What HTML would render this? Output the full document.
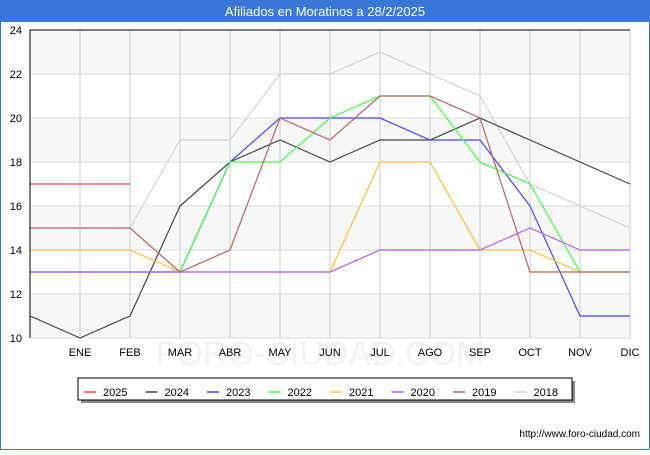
<!DOCTYPE html>
<html><head><meta charset="utf-8"><style>
body{margin:0;width:650px;height:450px;overflow:hidden;background:#fff;font-family:"Liberation Sans",sans-serif}
</style></head><body>
<svg id="c" width="650" height="450" xmlns="http://www.w3.org/2000/svg" font-family="Liberation Sans, sans-serif">
<rect x="0" y="0" width="650" height="450" fill="#fff" stroke="#3a78d8" stroke-width="2"/>
<rect x="0" y="0" width="650" height="22" fill="#3a78d8"/>
<text x="325" y="16" fill="#fff" font-size="13" text-anchor="middle">Afiliados en Moratinos a 28/2/2025</text>
<g id="grid"></g>
<text x="320" y="365" fill="#f3f3f3" font-size="34" text-anchor="middle">FORO-CIUDAD.COM</text>
<g id="series"></g><g id="axes"></g>
<rect x="81" y="381" width="494" height="22" fill="#888"/>
<rect x="78" y="378" width="494" height="22" fill="#fff" stroke="#000" stroke-width="1"/>
<g id="legend"></g>
<text x="640" y="437" font-size="10" text-anchor="end" fill="#000">http://www.foro-ciudad.com</text>
</svg>
<script>
const months=["","ENE","FEB","MAR","ABR","MAY","JUN","JUL","AGO","SEP","OCT","NOV","DIC"];
const yTicks=[10,12,14,16,18,20,22,24];
const seriesNames=["2025","2024","2023","2022","2021","2020","2019","2018"];
const colors=["#ff4b4b","#444444","#4646ff","#46ff46","#ffbe3c","#b45aff","#b96464","#d2d2d2"];
const s2025=[17,17,17];
const s2024=[11,10,11,16,18,19,18,19,19,20,19,18,17];
const s2023=[13,13,13,13,18,20,20,20,19,19,16,11,11];
const s2022=[13,13,13,13,18,18,20,21,21,18,17,13,13];
const s2021=[14,14,14,13,13,13,13,18,18,14,14,13,13];
const s2020=[13,13,13,13,13,13,13,14,14,14,15,14,14];
const s2019=[15,15,15,13,14,20,19,21,21,20,13,13,13];
const s2018=[15,15,15,19,19,22,22,23,22,21,17,16,15];
const data=[s2025,s2024,s2023,s2022,s2021,s2020,s2019,s2018];
const NS="http://www.w3.org/2000/svg";
const X0=30,X1=630,Y0=338,Y1=30,YMIN=10,YMAX=24;
const x=i=>X0+i*(X1-X0)/12;
const y=v=>Y0-(v-YMIN)*(Y0-Y1)/(YMAX-YMIN);
function mk(t,a,p){const e=document.createElementNS(NS,t);for(const k in a)e.setAttribute(k,a[k]);p.appendChild(e);return e;}
const g=document.getElementById('grid'),s=document.getElementById('series'),ax=document.getElementById('axes'),lg=document.getElementById('legend');
for(let i=0;i<yTicks.length-1;i++){
 const r=mk('rect',{x:X0,y:y(yTicks[i+1]),width:X1-X0,height:y(yTicks[i])-y(yTicks[i+1]),fill:(i%2==0)?'#f8f8f8':'#ffffff'},g);
 
 
}
yTicks.forEach(v=>{
 const l=mk('line',{x1:X0,x2:X1,y1:y(v),y2:y(v),stroke:'#dddddd'},g);
 
 
 const t=mk('text',{x:22,y:y(v)+4,'font-size':11,'text-anchor':'end',fill:'#000'},ax);t.textContent=v;
 
 
});
months.forEach((m,i)=>{
 if(i>0){const l=mk('line',{x1:x(i),x2:x(i),y1:Y1,y2:Y0,stroke:'#cccccc'},g);
 
 }
 if(m){const t=mk('text',{x:x(i),y:356,'font-size':11,'text-anchor':'middle',fill:'#000'},ax);t.textContent=m;
 
 }
});
const fr=mk('path',{d:`M${X0},${Y0}V${Y1}H${X1}`,fill:'none',stroke:'#000'},ax);


const order=[7,0,1,2,3,4,5,6];
order.forEach(k=>{
 const p=mk('polyline',{points:data[k].map((v,i)=>x(i)+','+y(v)).join(' '),fill:'none',stroke:colors[k],'stroke-width':1.2},s);
 
 
});
seriesNames.forEach((n,k)=>{
 const lx=84+k*61.5;
 const l=mk('line',{x1:lx,x2:lx+12,y1:392,y2:392,stroke:colors[k],'stroke-width':1.5},lg);
 
 
 const t=mk('text',{x:lx+19,y:396,'font-size':11,fill:'#000'},lg);t.textContent=n;
 
 
});
</script>
</body></html>
